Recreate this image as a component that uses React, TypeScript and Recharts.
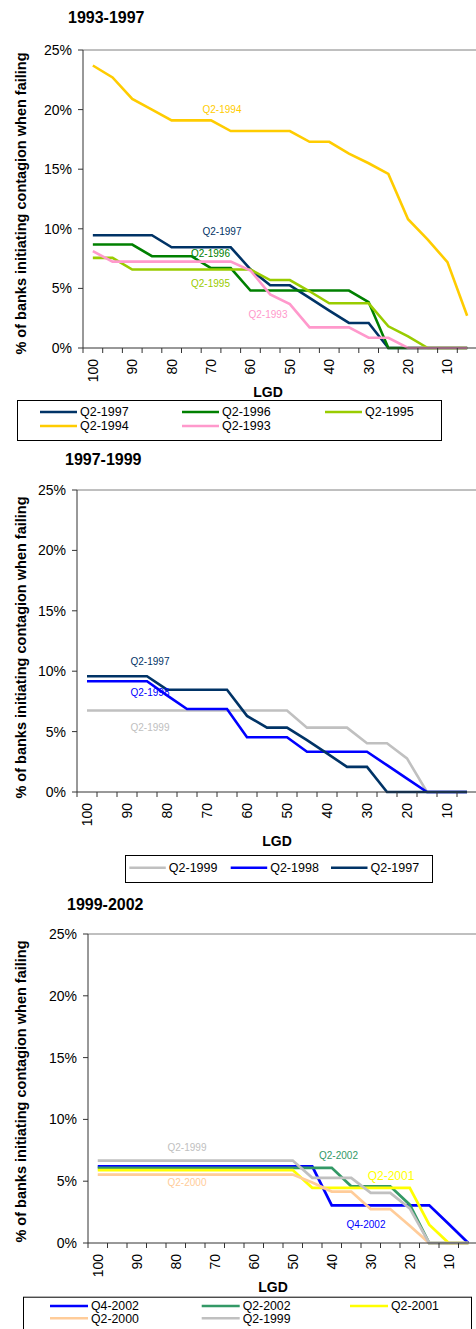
import React from "react";
import { LineChart, Line, XAxis, YAxis, ReferenceLine } from "recharts";

const FONT = "'Liberation Sans', Arial, sans-serif";
const AXIS = "#333333";

const LGD = [100, 95, 90, 85, 80, 75, 70, 65, 60, 55, 50, 45, 40, 35, 30, 25, 20, 15, 10, 5];
const PCT_TICKS = [0, 5, 10, 15, 20, 25];

// 1993-1997
const P1_Q2_1997 = [9.46, 9.46, 9.46, 9.46, 8.45, 8.45, 8.45, 8.45, 6.6, 5.26, 5.26, 4.2, 3.13, 2.1, 2.1, 0, 0, 0, 0, 0];
const P1_Q2_1996 = [8.68, 8.68, 8.68, 7.7, 7.7, 7.7, 6.7, 6.7, 4.82, 4.82, 4.82, 4.82, 4.82, 4.82, 3.85, 0, 0, 0, 0, 0];
const P1_Q2_1995 = [7.56, 7.56, 6.58, 6.58, 6.58, 6.58, 6.58, 6.58, 6.58, 5.7, 5.7, 4.76, 3.75, 3.75, 3.75, 1.82, 0.98, 0, 0, 0];
const P1_Q2_1994 = [23.7, 22.7, 20.9, 20.0, 19.1, 19.1, 19.1, 18.2, 18.2, 18.2, 18.2, 17.3, 17.3, 16.3, 15.5, 14.6, 10.8, 9.1, 7.2, 2.7];
const P1_Q2_1993 = [8.12, 7.25, 7.25, 7.25, 7.25, 7.25, 7.25, 7.25, 6.5, 4.5, 3.68, 1.73, 1.73, 1.73, 0.86, 0.86, 0, 0, 0, 0];

// 1997-1999
const P2_Q2_1999 = [6.75, 6.75, 6.75, 6.75, 6.75, 6.75, 6.75, 6.75, 6.75, 6.75, 6.75, 5.33, 5.33, 5.33, 4.03, 4.03, 2.78, 0, 0, 0];
const P2_Q2_1998 = [9.17, 9.17, 9.17, 9.17, 8.0, 6.87, 6.87, 6.87, 4.53, 4.53, 4.53, 3.33, 3.33, 3.33, 3.33, 2.22, 1.11, 0, 0, 0];
const P2_Q2_1997 = [9.58, 9.58, 9.58, 9.58, 8.47, 8.47, 8.47, 8.47, 6.3, 5.33, 5.33, 4.3, 3.2, 2.08, 2.08, 0, 0, 0, 0, 0];

// 1999-2002
const P3_Q4_2002 = [6.2, 6.2, 6.2, 6.2, 6.2, 6.2, 6.2, 6.2, 6.2, 6.2, 6.2, 6.2, 3.05, 3.05, 3.05, 3.05, 3.05, 3.05, 1.54, 0];
const P3_Q2_2002 = [6.08, 6.08, 6.08, 6.08, 6.08, 6.08, 6.08, 6.08, 6.08, 6.08, 6.08, 6.08, 6.08, 4.59, 4.59, 4.59, 3.1, 0, 0, 0];
const P3_Q2_2001 = [5.9, 5.9, 5.9, 5.9, 5.9, 5.9, 5.9, 5.9, 5.9, 5.9, 5.9, 4.46, 4.46, 4.46, 4.46, 4.46, 4.46, 1.48, 0, 0];
const P3_Q2_2000 = [5.54, 5.54, 5.54, 5.54, 5.54, 5.54, 5.54, 5.54, 5.54, 5.54, 5.54, 4.89, 4.16, 4.16, 2.75, 2.75, 1.4, 0, 0, 0];
const P3_Q2_1999 = [6.67, 6.67, 6.67, 6.67, 6.67, 6.67, 6.67, 6.67, 6.67, 6.67, 6.67, 5.27, 5.27, 5.27, 4.05, 4.05, 2.8, 0, 0, 0];

const SERIES_1 = [
  { key: "q2_1997", name: "Q2-1997", color: "#003366", values: P1_Q2_1997 },
  { key: "q2_1996", name: "Q2-1996", color: "#008000", values: P1_Q2_1996 },
  { key: "q2_1995", name: "Q2-1995", color: "#99CC00", values: P1_Q2_1995 },
  { key: "q2_1994", name: "Q2-1994", color: "#FFCC00", values: P1_Q2_1994 },
  { key: "q2_1993", name: "Q2-1993", color: "#FF99CC", values: P1_Q2_1993 },
];
const SERIES_2 = [
  { key: "q2_1999", name: "Q2-1999", color: "#C0C0C0", values: P2_Q2_1999 },
  { key: "q2_1998", name: "Q2-1998", color: "#0000FF", values: P2_Q2_1998 },
  { key: "q2_1997", name: "Q2-1997", color: "#003366", values: P2_Q2_1997 },
];
const SERIES_3 = [
  { key: "q4_2002", name: "Q4-2002", color: "#0000FF", values: P3_Q4_2002 },
  { key: "q2_2002", name: "Q2-2002", color: "#339966", values: P3_Q2_2002 },
  { key: "q2_2001", name: "Q2-2001", color: "#FFFF00", values: P3_Q2_2001 },
  { key: "q2_2000", name: "Q2-2000", color: "#FFCC99", values: P3_Q2_2000 },
  { key: "q2_1999", name: "Q2-1999", color: "#C0C0C0", values: P3_Q2_1999 },
];

// text boxes placed inside the plots
const LABELS_1 = [
  { text: "Q2-1994", x: 222, y: 109.5, color: "#FFCC00", size: 10 },
  { text: "Q2-1997", x: 222, y: 231, color: "#003366", size: 10 },
  { text: "Q2-1996", x: 210.5, y: 253.5, color: "#008000", size: 10 },
  { text: "Q2-1995", x: 210.5, y: 283.7, color: "#99CC00", size: 10 },
  { text: "Q2-1993", x: 268, y: 314, color: "#FF99CC", size: 10 },
];
const LABELS_2 = [
  { text: "Q2-1997", x: 150, y: 661, color: "#003366", size: 10 },
  { text: "Q2-1998", x: 150, y: 692.7, color: "#0000FF", size: 10 },
  { text: "Q2-1999", x: 150, y: 727, color: "#C0C0C0", size: 10 },
];
const LABELS_3 = [
  { text: "Q2-1999", x: 187, y: 1147, color: "#C0C0C0", size: 10 },
  { text: "Q2-2002", x: 338.5, y: 1155.3, color: "#339966", size: 10 },
  { text: "Q2-2001", x: 391, y: 1176, color: "#FFFF00", size: 12 },
  { text: "Q2-2000", x: 187, y: 1182, color: "#FFCC99", size: 10 },
  { text: "Q4-2002", x: 366, y: 1224, color: "#0000FF", size: 10 },
];

const toRows = (series) =>
  LGD.map((lgd, i) => {
    const row = { lgd };
    series.forEach((s) => (row[s.key] = s.values[i]));
    return row;
  });

const LgdTick = ({ x, y, payload, half }) => (
  <g>
    <line x1={x - half} x2={x - half} y1={y} y2={y + 5} stroke={AXIS} />
    {payload.value % 10 === 0 && (
      <text
        x={x}
        y={y + 11}
        transform={`rotate(-90 ${x} ${y + 11})`}
        textAnchor="end"
        dy="0.35em"
        fontSize={14}
        fontFamily={FONT}
        fill="#000"
      >
        {payload.value}
      </text>
    )}
  </g>
);

function Panel({ top, left, right, bottom, series, strokeWidth }) {
  const chartTop = top - 10;
  const height = bottom - chartTop + 40;
  const half = (right - left) / LGD.length / 2;
  return (
    <div style={{ position: "absolute", left: 0, top: chartTop }}>
      <LineChart
        width={right + 2}
        height={height}
        data={toRows(series)}
        margin={{ top: 10, right: 2, left: 0, bottom: 0 }}
      >
        <XAxis
          dataKey="lgd"
          type="number"
          domain={[2.5, 102.5]}
          reversed
          allowDataOverflow
          ticks={LGD}
          interval={0}
          height={40}
          tickSize={0}
          tickMargin={0}
          tickLine={false}
          axisLine={{ stroke: AXIS }}
          tick={(p) => <LgdTick {...p} half={half} />}
        />
        <YAxis
          type="number"
          domain={[0, 25]}
          ticks={PCT_TICKS}
          interval={0}
          width={left}
          tickFormatter={(v) => `${v}%`}
          tickSize={5}
          tickMargin={6}
          axisLine={{ stroke: AXIS }}
          tickLine={{ stroke: AXIS }}
          tick={{ fontSize: 14, fill: "#000", fontFamily: FONT }}
        />
        <ReferenceLine y={25} stroke="#808080" />
        {series.map((s) => (
          <Line
            key={s.key}
            type="linear"
            dataKey={s.key}
            name={s.name}
            stroke={s.color}
            strokeWidth={strokeWidth}
            dot={false}
            activeDot={false}
            isAnimationActive={false}
          />
        ))}
      </LineChart>
    </div>
  );
}

function LegendBox({ box, cols, rows, lineLen, series, fontSize }) {
  return (
    <g>
      <rect x={box.x + 0.5} y={box.y + 0.5} width={box.w} height={box.h} fill="#fff" stroke="#000" />
      {series.map((s, i) => {
        const lx = box.x + cols[i % cols.length];
        const ly = box.y + rows[Math.floor(i / cols.length)];
        return (
          <g key={s.key}>
            <line x1={lx} x2={lx + lineLen} y1={ly} y2={ly} stroke={s.color} strokeWidth={2.5} />
            <text x={lx + lineLen + 3} y={ly + 0.358 * fontSize} fontSize={fontSize} fill="#000">
              {s.name}
            </text>
          </g>
        );
      })}
    </g>
  );
}

const Title = ({ x, y, text }) => (
  <text x={x} y={y} fontSize={16} fontWeight="bold" fill="#000">
    {text}
  </text>
);

const YTitle = ({ cy }) => (
  <text
    x={25.5}
    y={cy}
    transform={`rotate(-90 25.5 ${cy})`}
    textAnchor="middle"
    fontSize={14.5}
    fontWeight="bold"
    fill="#000"
  >
    % of banks initiating contagion when failing
  </text>
);

const XTitle = ({ x, y }) => (
  <text x={x} y={y} textAnchor="middle" fontSize={14} fontWeight="bold" fill="#000">
    LGD
  </text>
);

const SeriesLabels = ({ labels }) => (
  <g>
    {labels.map((l) => (
      <text key={l.text + l.y} x={l.x} y={l.y + 0.358 * l.size} textAnchor="middle" fontSize={l.size} fill={l.color}>
        {l.text}
      </text>
    ))}
  </g>
);

export default function App() {
  return (
    <div
      style={{
        position: "relative",
        width: 476,
        height: 1329,
        overflow: "hidden",
        background: "#fff",
        fontFamily: FONT,
      }}
    >
      <style>{"body{margin:0}"}</style>
      <Panel top={50} left={83} right={477} bottom={348} series={SERIES_1} strokeWidth={2.6} />
      <Panel top={490} left={77} right={477} bottom={792} series={SERIES_2} strokeWidth={2.6} />
      <Panel top={934} left={88} right={478} bottom={1243} series={SERIES_3} strokeWidth={2.75} />
      <svg
        width={476}
        height={1329}
        style={{ position: "absolute", left: 0, top: 0, pointerEvents: "none", fontFamily: FONT }}
      >
        <Title x={68} y={23.2} text="1993-1997" />
        <Title x={65} y={465.4} text="1997-1999" />
        <Title x={67} y={910} text="1999-2002" />
        <YTitle cy={203.5} />
        <YTitle cy={647.5} />
        <YTitle cy={1091.5} />
        <XTitle x={268} y={396.7} />
        <XTitle x={277} y={846} />
        <XTitle x={273} y={1291.7} />
        <SeriesLabels labels={LABELS_1} />
        <SeriesLabels labels={LABELS_2} />
        <SeriesLabels labels={LABELS_3} />
        <LegendBox
          box={{ x: 17, y: 400, w: 424, h: 40 }}
          cols={[23, 165, 308]}
          rows={[12, 26]}
          lineLen={37}
          series={SERIES_1}
          fontSize={12.5}
        />
        <LegendBox
          box={{ x: 125, y: 855, w: 307, h: 27 }}
          cols={[4.3, 105.7, 206]}
          rows={[12.7]}
          lineLen={36.5}
          series={SERIES_2}
          fontSize={12.5}
        />
        <LegendBox
          box={{ x: 23, y: 1296.7, w: 448, h: 40 }}
          cols={[27, 178.7, 327]}
          rows={[9.3, 21.6]}
          lineLen={38}
          series={SERIES_3}
          fontSize={12.3}
        />
      </svg>
    </div>
  );
}
